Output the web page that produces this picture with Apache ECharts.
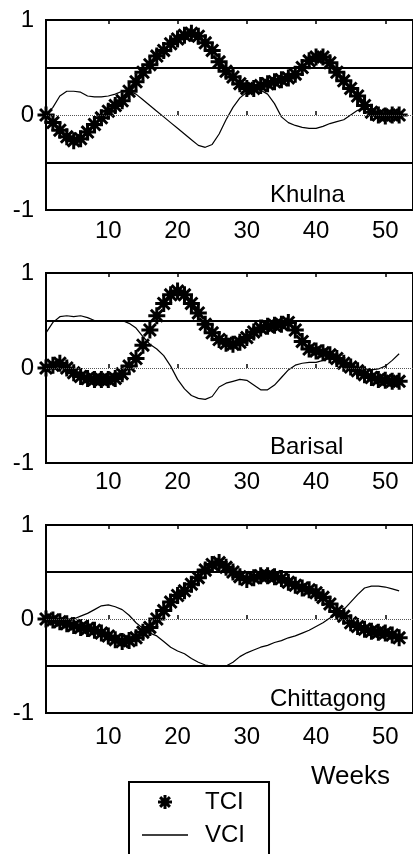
<!DOCTYPE html>
<html>
<head>
<meta charset="utf-8">
<script src="https://cdn.jsdelivr.net/npm/echarts@6/dist/echarts.min.js"></script>
<style>
html,body{margin:0;padding:0;background:#fff;}
#chart{width:413px;height:854px;}
</style>
</head>
<body>
<div id="chart"></div>
<script>
const weeks = [1,2,3,4,5,6,7,8,9,10,11,12,13,14,15,16,17,18,19,20,21,22,23,24,25,26,
  27,28,29,30,31,32,33,34,35,36,37,38,39,40,41,42,43,44,45,46,47,48,49,50,51,52];

const khulnaTCI = [0.0,-0.08,-0.16,-0.23,-0.27,-0.25,-0.18,-0.1,-0.03,0.04,0.1,0.15,0.25,0.35,0.45,0.53,
  0.62,0.68,0.75,0.8,0.84,0.86,0.83,0.76,0.68,0.56,0.46,0.4,0.33,0.28,0.28,0.31,0.33,0.35,0.37,0.39,
  0.43,0.5,0.57,0.61,0.61,0.55,0.45,0.36,0.28,0.2,0.1,0.03,0.0,-0.01,0.0,0.0];
const khulnaVCI = [0.0,0.08,0.2,0.25,0.25,0.24,0.2,0.19,0.19,0.2,0.22,0.25,0.25,0.22,0.16,0.1,
  0.04,-0.02,-0.08,-0.14,-0.2,-0.26,-0.32,-0.34,-0.31,-0.2,-0.05,0.08,0.18,0.24,0.27,0.26,0.22,0.12,
  -0.02,-0.08,-0.11,-0.13,-0.14,-0.14,-0.12,-0.09,-0.07,-0.05,0.0,0.05,0.06,0.06,0.05,0.04,0.03,0.03];

const barisalTCI = [0.0,0.03,0.05,0.0,-0.05,-0.09,-0.11,-0.12,-0.12,-0.12,-0.11,-0.06,0.02,0.1,0.24,
  0.4,0.55,0.68,0.77,0.81,0.77,0.68,0.58,0.46,0.37,0.3,0.26,0.25,0.27,0.32,0.38,0.42,0.44,0.45,0.46,
  0.48,0.4,0.28,0.2,0.18,0.16,0.14,0.1,0.05,0.01,-0.03,-0.07,-0.1,-0.12,-0.13,-0.14,-0.14];
const barisalVCI = [0.37,0.48,0.54,0.55,0.54,0.55,0.53,0.5,0.5,0.5,0.5,0.5,0.47,0.42,0.33,0.25,0.2,
  0.13,0.02,-0.12,-0.22,-0.29,-0.32,-0.33,-0.3,-0.2,-0.16,-0.14,-0.12,-0.13,-0.18,-0.23,-0.23,-0.18,
  -0.1,-0.02,0.03,0.05,0.06,0.06,0.08,0.1,0.08,0.05,0.03,0.01,-0.01,-0.02,-0.01,0.02,0.08,0.15];

const chittagongTCI = [0.0,-0.01,-0.03,-0.05,-0.07,-0.09,-0.1,-0.12,-0.15,-0.18,-0.22,-0.24,-0.23,
  -0.2,-0.14,-0.09,0.0,0.09,0.18,0.25,0.3,0.37,0.44,0.52,0.58,0.6,0.55,0.5,0.45,0.42,0.44,0.46,0.46,
  0.45,0.43,0.39,0.36,0.33,0.31,0.28,0.23,0.16,0.08,0.03,-0.04,-0.08,-0.11,-0.13,-0.14,-0.15,-0.17,-0.2];
const chittagongVCI = [0.0,0.0,-0.01,0.0,0.0,0.03,0.06,0.1,0.14,0.15,0.13,0.1,0.04,-0.04,-0.1,-0.15,
  -0.18,-0.24,-0.3,-0.34,-0.37,-0.42,-0.46,-0.49,-0.5,-0.5,-0.5,-0.46,-0.4,-0.36,-0.33,-0.3,-0.28,
  -0.25,-0.23,-0.2,-0.18,-0.15,-0.12,-0.08,-0.04,0.01,0.05,0.1,0.18,0.26,0.33,0.35,0.35,0.34,0.32,0.3];

const panelNames = ['Khulna', 'Barisal', 'Chittagong'];
const seriesNames = ['TCI', 'VCI'];
const xTickValues = [10, 20, 30, 40, 50];
const yTickValues = [-1, 0, 1];
const refLines = [0.5, -0.5];
const xAxisTitle = 'Weeks';

const tciData = [khulnaTCI, barisalTCI, chittagongTCI];
const vciData = [khulnaVCI, barisalVCI, chittagongVCI];

const FONT = "'Liberation Sans', Arial, 'DejaVu Sans', sans-serif";
const STAR = 'path://M5,0L5,10M0,5L10,5M1.5,1.5L8.5,8.5M1.5,8.5L8.5,1.5';
const LINE_ICON = 'path://M0,0L46,0L46,1.4L0,1.4Z';

const gridPos = [
  {top: 20, height: 190, labelMargin: 9, nameTop: 178},
  {top: 273, height: 190, labelMargin: 7, nameTop: 430},
  {top: 525, height: 188, labelMargin: 12, nameTop: 682}
];

const grids = [], xAxes = [], yAxes = [], series = [], titles = [];
gridPos.forEach((g, i) => {
  grids.push({
    left: 46, top: g.top, width: 372.6, height: g.height,
    show: true, borderColor: '#000', borderWidth: 2, backgroundColor: '#fff'
  });
  xAxes.push({
    type: 'value', gridIndex: i, min: 1, max: 54, position: 'bottom',
    axisLine: {show: false},
    splitLine: {show: false},
    axisTick: {show: true, inside: true, length: 4, customValues: xTickValues,
      lineStyle: {color: '#000', width: 1.5}},
    axisLabel: {show: true, customValues: xTickValues, margin: g.labelMargin,
      color: '#000', fontSize: 24, fontFamily: FONT}
  });
  xAxes.push({
    type: 'value', gridIndex: i, min: 1, max: 54, position: 'top',
    axisLine: {show: false},
    splitLine: {show: false},
    axisTick: {show: true, inside: true, length: 4, customValues: xTickValues,
      lineStyle: {color: '#000', width: 1.5}},
    axisLabel: {show: false}
  });
  yAxes.push({
    type: 'value', gridIndex: i, min: -1, max: 1, interval: 1,
    axisLine: {show: false},
    splitLine: {show: false},
    axisTick: {show: true, inside: false, length: 8, customValues: [0],
      lineStyle: {color: '#000', width: 1.5}},
    axisLabel: {show: true, customValues: yTickValues, margin: 12,
      color: '#000', fontSize: 24, fontFamily: FONT}
  });
  series.push({
    name: seriesNames[1], type: 'line', xAxisIndex: 2 * i, yAxisIndex: i,
    data: weeks.map((w, k) => [w, vciData[i][k]]),
    showSymbol: false, symbol: 'none', z: 2,
    lineStyle: {color: '#000', width: 1.2},
    itemStyle: {color: '#000'},
    silent: true,
    markLine: {
      silent: true, symbol: 'none', label: {show: false},
      data: [
        {yAxis: 0, lineStyle: {color: '#555', width: 1, type: [1, 1]}},
        {yAxis: refLines[0], lineStyle: {color: '#000', width: 2, type: 'solid'}},
        {yAxis: refLines[1], lineStyle: {color: '#000', width: 2, type: 'solid'}}
      ]
    }
  });
  series.push({
    name: seriesNames[0], type: 'scatter', xAxisIndex: 2 * i, yAxisIndex: i,
    data: weeks.map((w, k) => [w, tciData[i][k]]),
    symbol: STAR, symbolSize: 17, z: 3, silent: true,
    itemStyle: {color: '#000', borderColor: '#000', borderWidth: 3, opacity: 1}
  });
  titles.push({
    text: panelNames[i], left: 265, top: g.nameTop,
    textStyle: {color: '#000', fontSize: 24, fontWeight: 'normal', fontFamily: FONT}
  });
});
titles.push({
  text: xAxisTitle, left: 306, top: 759,
  textStyle: {color: '#000', fontSize: 26, fontWeight: 'normal', fontFamily: FONT}
});

const chart = echarts.init(document.getElementById('chart'), null, {renderer: 'canvas'});
chart.setOption({
  animation: false,
  backgroundColor: '#fff',
  title: titles,
  grid: grids,
  xAxis: xAxes,
  yAxis: yAxes,
  legend: {
    orient: 'vertical', left: 129, top: 782, width: 100, height: 70,
    padding: [8, 24, 30, 13],
    borderColor: '#000', borderWidth: 2, backgroundColor: '#fff',
    itemWidth: 46, itemHeight: 14, itemGap: 9,
    textStyle: {color: '#000', fontSize: 24, fontFamily: FONT, padding: [0, 0, 0, 12]},
    data: [
      {name: seriesNames[0], icon: STAR, itemStyle: {color: '#000', borderColor: '#000', borderWidth: 3, opacity: 1}},
      {name: seriesNames[1], icon: LINE_ICON, itemStyle: {color: '#000', borderWidth: 0, opacity: 1}}
    ]
  },
  series: series
});
</script>
</body>
</html>
